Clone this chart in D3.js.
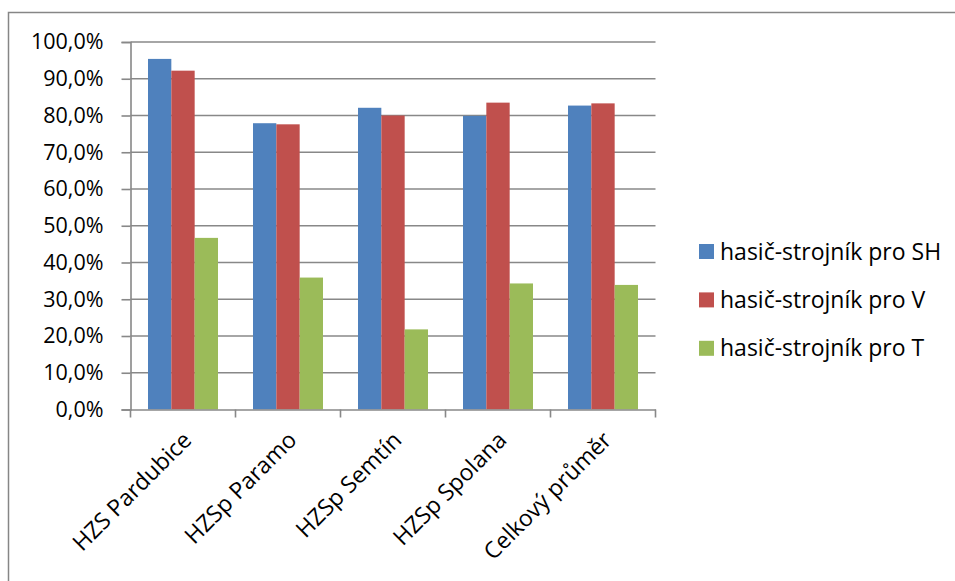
<!DOCTYPE html>
<html><head><meta charset="utf-8">
<script src="https://cdn.jsdelivr.net/npm/d3@7"></script>
<style>
html,body{margin:0;padding:0;background:#fff;}
svg{display:block;font-family:"Open Sans",sans-serif;}
</style></head>
<body>
<svg id="chart" width="955" height="581"></svg>
<script>
const categories = ["HZS Pardubice","HZSp Paramo","HZSp Semtín","HZSp Spolana","Celkový průměr"];
const seriesNames = ["hasič-strojník pro SH","hasič-strojník pro V","hasič-strojník pro T"];
const valuesSH = [0.954, 0.779, 0.821, 0.799, 0.827];
const valuesV  = [0.922, 0.776, 0.800, 0.835, 0.833];
const valuesT  = [0.467, 0.359, 0.218, 0.343, 0.339];
const colors = ["#4F81BD","#C0504D","#9BBB59"];
const yTicks = [0,0.1,0.2,0.3,0.4,0.5,0.6,0.7,0.8,0.9,1.0];

const seriesValues = [valuesSH, valuesV, valuesT];
const svg = d3.select("#chart");

// outer chart border (left and top visible)
svg.append("path").attr("d","M8.5,590 L8.5,12.5 L960,12.5")
  .attr("fill","none").attr("stroke","#868686").attr("stroke-width",1.5);

const pL = 130.5, pR = 655.5, pT = 42, pB = 409.5;
const x = d3.scaleBand().domain(categories).range([pL,pR]).paddingInner(1/3).paddingOuter(1/6);
const xs = d3.scaleBand().domain(d3.range(3)).range([0,x.bandwidth()]).padding(0);
const y = d3.scaleLinear().domain([0,1]).range([pB,pT]);

const fmt = v => d3.format(".1f")(v*100).replace(".",",") + "%";

// gridlines
svg.append("g").selectAll("line").data(yTicks.slice(1)).join("line")
  .attr("x1",pL).attr("x2",pR)
  .attr("y1",d=>y(d)).attr("y2",d=>y(d))
  .attr("stroke","#888").attr("stroke-width",1.6);

// bars
const groups = svg.append("g").selectAll("g").data(categories).join("g")
  .attr("transform",d=>`translate(${x(d)},0)`);
groups.selectAll("rect").data((d,i)=>seriesValues.map((s,j)=>({j,v:s[i]}))).join("rect")
  .attr("x",d=>xs(d.j)).attr("width",xs.bandwidth())
  .attr("y",d=>y(d.v)).attr("height",d=>y(0)-y(d.v))
  .attr("fill",d=>colors[d.j]);

// y axis
const yAxis = d3.axisLeft(y).tickValues(yTicks).tickFormat(fmt).tickSize(9).tickPadding(18);
const gy = svg.append("g").attr("transform",`translate(${pL},0)`).call(yAxis);
gy.select(".domain").attr("stroke","#888").attr("stroke-width",1.6);
gy.selectAll(".tick line").attr("stroke","#888").attr("stroke-width",1.6);
gy.selectAll("text").attr("font-size",21.5).attr("font-family","'Open Sans',sans-serif").attr("fill","#000");

// x axis
const xAxis = d3.axisBottom(x).tickSize(0).tickFormat(d=>d);
const gx = svg.append("g").attr("transform",`translate(0,${pB})`).call(xAxis);
gx.select(".domain").attr("stroke","#888").attr("stroke-width",1.6);
// category boundary tick marks
const bounds = categories.map(c=>x(c)-x.step()*x.paddingInner()/2).concat([pR]);
gx.selectAll(".bt").data(bounds).join("line").attr("class","bt")
  .attr("x1",d=>d).attr("x2",d=>d).attr("y1",0).attr("y2",8)
  .attr("stroke","#888").attr("stroke-width",1.6);
gx.selectAll(".tick text")
  .attr("font-size",23).attr("font-family","'Open Sans',sans-serif").attr("fill","#000")
  .attr("text-anchor","end").attr("dy",0).attr("y",0)
  .attr("transform","translate(10,32) rotate(-45)");

// legend
const lg = svg.append("g").attr("transform","translate(699,244)");
const li = lg.selectAll("g").data(seriesNames).join("g")
  .attr("transform",(d,i)=>`translate(0,${i*48.4})`);
li.append("rect").attr("width",15).attr("height",15).attr("fill",(d,i)=>colors[i]);
li.append("text").attr("x",21).attr("y",15.5).attr("font-size",23)
  .attr("font-family","'Open Sans',sans-serif").attr("fill","#000").text(d=>d);
</script>
</body></html>
